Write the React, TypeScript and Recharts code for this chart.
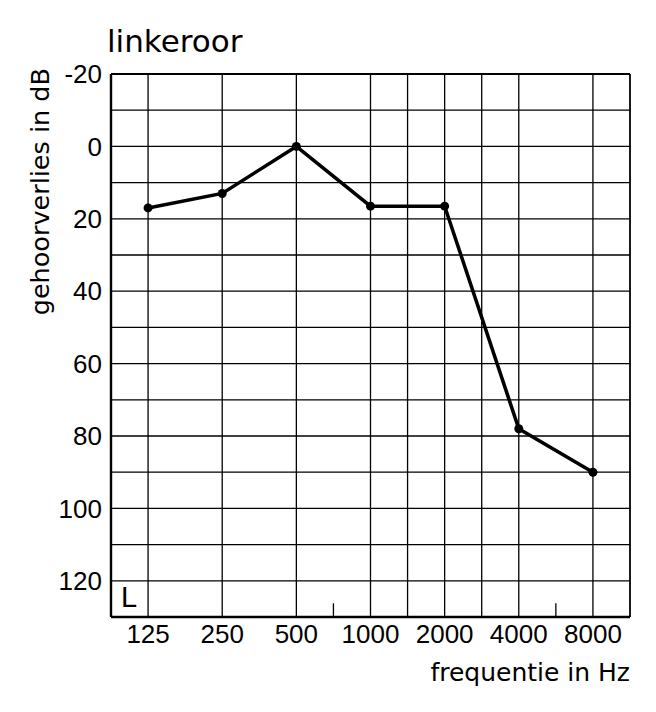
import { Line, LineChart, ReferenceLine, XAxis, YAxis } from "recharts";

// audiogram, left ear
const freqLabels = ["125", "250", "500", "1000", "2000", "4000", "8000"];
const lossDb = [17, 13, 0, 16.5, 16.5, 78, 90];

const yTicks = [-20, 0, 20, 40, 60, 80, 100, 120];
const hGrid = [-10, 0, 10, 20, 30, 40, 50, 60, 70, 80, 90, 100, 110, 120];
// octave index from 125 Hz; half-octave lines at 1500 and 3000 Hz
const vGrid = [0, 1, 2, 3, 3.5, 4, 4.5, 5, 6];
const shortTicks = [2.5, 5.5];

const data = freqLabels.map((f, i) => ({ oct: i, freq: f, loss: lossDb[i] }));

const WORD_FONT = "'DejaVu Sans', sans-serif";
const NUM_FONT = "'Liberation Sans', Arial, sans-serif";

export default function App() {
  return (
    <div style={{ position: "absolute", left: 0, top: 0, width: 656, height: 712, background: "#fff" }}>
      <LineChart width={656} height={712} data={data} margin={{ top: 74, right: 26, left: 0, bottom: 0 }}>
        {hGrid.map((v) => (
          <ReferenceLine key={"h" + v} y={v} stroke="#000" strokeWidth={1.3} />
        ))}
        <ReferenceLine y={-20} stroke="#000" strokeWidth={1.8} />
        {vGrid.map((v) => (
          <ReferenceLine key={"v" + v} x={v} stroke="#000" strokeWidth={1.3} />
        ))}
        <ReferenceLine x={6.5} stroke="#000" strokeWidth={1.8} />
        {shortTicks.map((v) => (
          <ReferenceLine
            key={"t" + v}
            segment={[
              { x: v, y: 130 },
              { x: v, y: 126.2 },
            ]}
            stroke="#000"
            strokeWidth={1.3}
          />
        ))}
        <XAxis
          dataKey="oct"
          type="number"
          domain={[-0.5, 6.5]}
          ticks={[0, 1, 2, 3, 4, 5, 6]}
          tickFormatter={(v) => freqLabels[v]}
          interval={0}
          height={95}
          tickSize={0}
          tickMargin={8}
          axisLine={{ stroke: "#000", strokeWidth: 2.4 }}
          tickLine={false}
          tick={{ fontSize: 26, fill: "#000", fontFamily: NUM_FONT }}
          label={{
            content: () => (
              <text x={630} y={681} textAnchor="end" fontSize={25} fontFamily={WORD_FONT} fill="#000">
                frequentie in Hz
              </text>
            ),
          }}
        />
        <YAxis
          type="number"
          reversed
          domain={[-20, 130]}
          ticks={yTicks}
          interval={0}
          width={111}
          tickSize={0}
          tickMargin={9}
          axisLine={{ stroke: "#000", strokeWidth: 2.4 }}
          tickLine={false}
          tick={{ fontSize: 26, fill: "#000", fontFamily: NUM_FONT }}
          label={{
            content: () => (
              <text
                x={49}
                y={68}
                transform="rotate(-90, 49, 68)"
                textAnchor="end"
                fontSize={25.5}
                fontFamily={WORD_FONT}
                fill="#000"
              >
                gehoorverlies in dB
              </text>
            ),
          }}
        />
        <Line
          dataKey="loss"
          type="linear"
          stroke="#000"
          strokeWidth={3.5}
          dot={{ r: 4.5, fill: "#000", stroke: "#000", strokeWidth: 0 }}
          isAnimationActive={false}
        />
        <text x={107} y={52} fontSize={31} fontFamily={WORD_FONT} fill="#000">
          linkeroor
        </text>
        <text x={121} y={607} fontSize={29} fontFamily={NUM_FONT} fill="#000">
          L
        </text>
      </LineChart>
    </div>
  );
}
